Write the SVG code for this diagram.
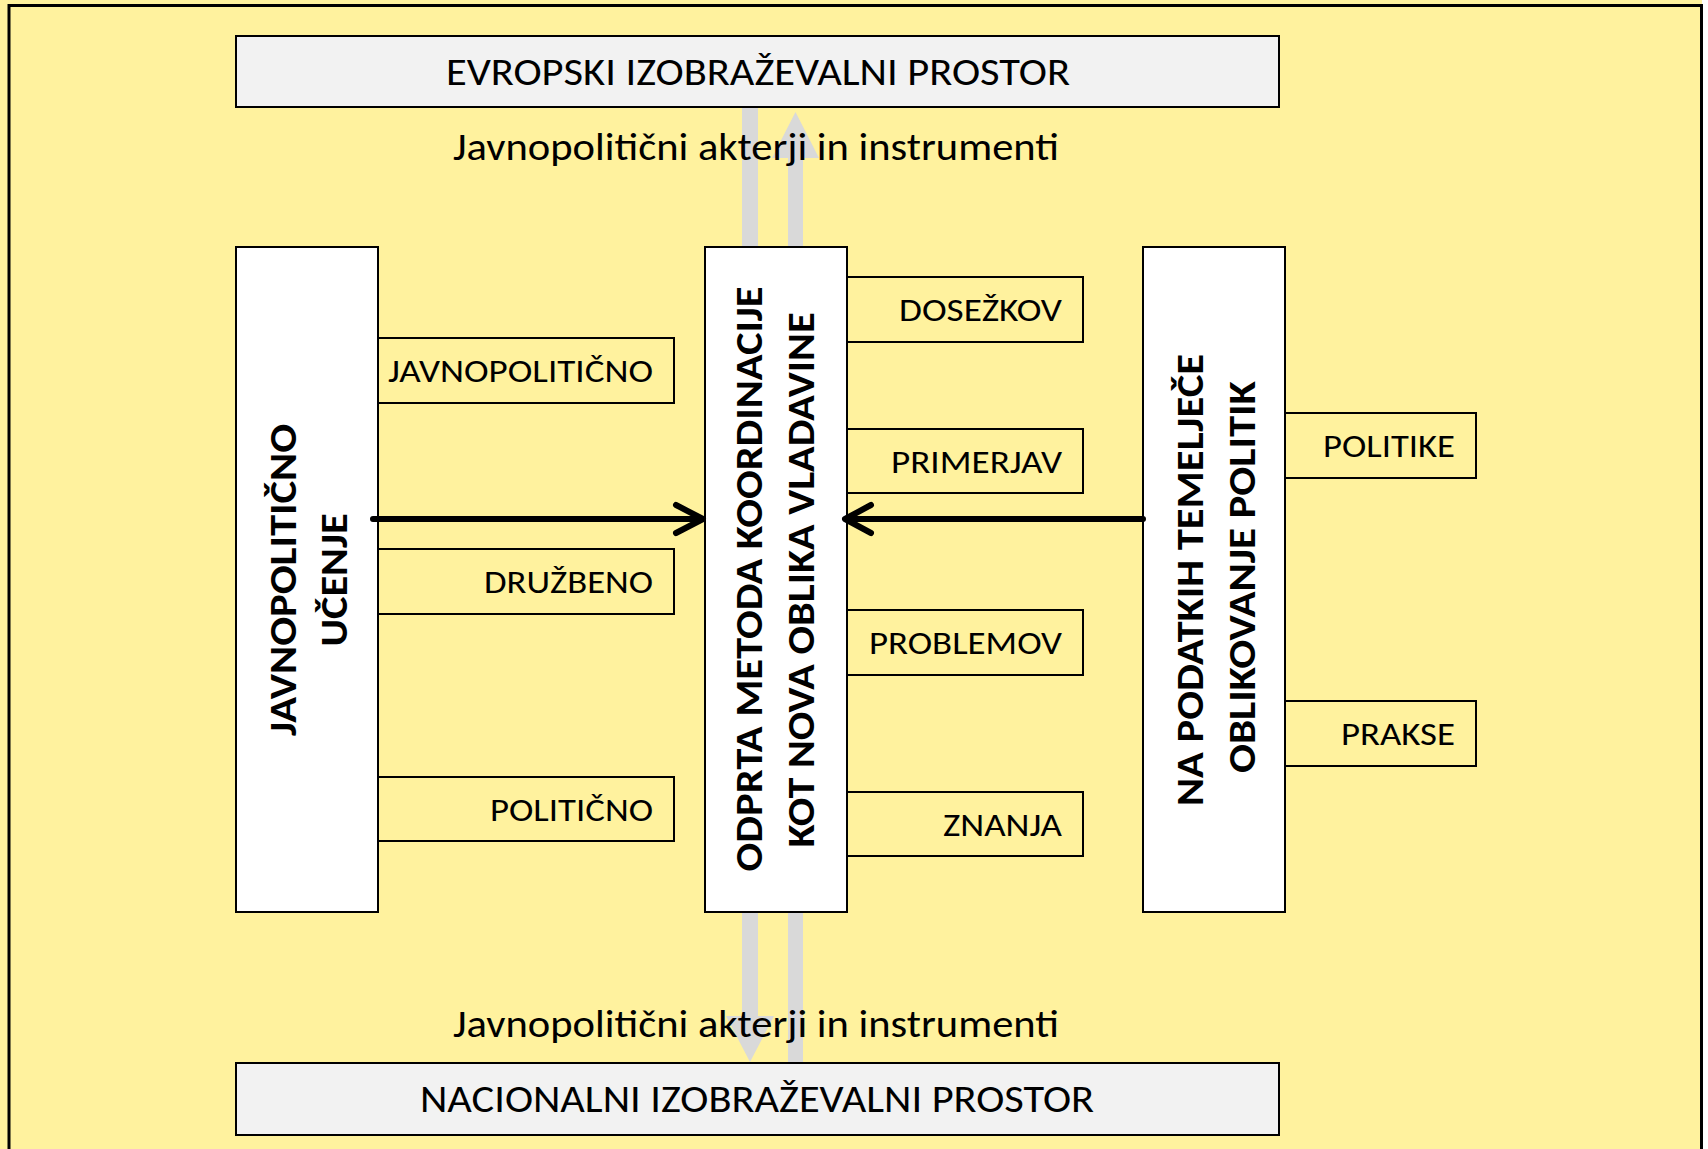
<svg xmlns="http://www.w3.org/2000/svg" width="1708" height="1149" viewBox="0 0 1708 1149">
  <style>
    .reg { font-family: Carlito, Calibri, Lato, "Liberation Sans", sans-serif; fill: #000; }
    .big { font-size: 38.5px; text-anchor: middle; }
    .small { font-size: 33px; text-anchor: end; }
    .bold { font-family: Carlito, Calibri, Lato, "Liberation Sans", sans-serif; font-weight: bold; font-size: 38.5px; text-anchor: middle; fill: #000; }
    .space { fill: #F2F2F2; stroke: #000; stroke-width: 2; }
    .tall { fill: #FFFFFF; stroke: #000; stroke-width: 2; }
    .tag { fill: #FFF29E; stroke: #000; stroke-width: 2; }
    .flow { fill: #D9D9D9; stroke: none; }
    .link { fill: none; stroke: #000; stroke-width: 6; stroke-linecap: round; stroke-linejoin: round; }
  </style>
  <rect x="0" y="0" width="1708" height="1149" fill="#FFFFFF"/>
  <rect x="0" y="0" width="1702" height="1149" fill="#FFF29E"/>
  <rect id="frame" x="9" y="5.5" width="1692.5" height="1160" fill="none" stroke="#000" stroke-width="3"/>

  <g id="evropski">
    <rect class="space" x="236" y="36" width="1043" height="71"/>
    <text class="reg big" x="758" y="85" textLength="624" lengthAdjust="spacingAndGlyphs">EVROPSKI IZOBRAŽEVALNI PROSTOR</text>
  </g>
  <g id="nacionalni">
    <rect class="space" x="236" y="1063" width="1043" height="72"/>
    <text class="reg big" x="757" y="1112" textLength="674" lengthAdjust="spacingAndGlyphs">NACIONALNI IZOBRAŽEVALNI PROSTOR</text>
  </g>

  <g id="ucenje">
    <rect class="tall" x="236" y="247" width="142" height="665"/>
    <text class="bold" transform="translate(296,580) rotate(-90)" textLength="312" lengthAdjust="spacingAndGlyphs">JAVNOPOLITIČNO</text>
    <text class="bold" transform="translate(347,580) rotate(-90)" textLength="133" lengthAdjust="spacingAndGlyphs">UČENJE</text>
  </g>
  <g id="omk">
    <rect class="tall" x="705" y="247" width="142" height="665"/>
    <text class="bold" transform="translate(762,579) rotate(-90)" textLength="585" lengthAdjust="spacingAndGlyphs">ODPRTA METODA KOORDINACIJE</text>
    <text class="bold" transform="translate(814,580) rotate(-90)" textLength="535" lengthAdjust="spacingAndGlyphs">KOT NOVA OBLIKA VLADAVINE</text>
  </g>
  <g id="podatki">
    <rect class="tall" x="1143" y="247" width="142" height="665"/>
    <text class="bold" transform="translate(1203,580) rotate(-90)" textLength="452" lengthAdjust="spacingAndGlyphs">NA PODATKIH TEMELJEČE</text>
    <text class="bold" transform="translate(1255,577) rotate(-90)" textLength="392" lengthAdjust="spacingAndGlyphs">OBLIKOVANJE POLITIK</text>
  </g>

  <g id="javnopoliticno">
    <rect class="tag" x="378" y="338" width="296" height="65"/>
    <text class="reg small" x="653" y="382" textLength="265" lengthAdjust="spacingAndGlyphs">JAVNOPOLITIČNO</text>
  </g>
  <g id="druzbeno">
    <rect class="tag" x="378" y="549" width="296" height="65"/>
    <text class="reg small" x="653" y="593" textLength="169" lengthAdjust="spacingAndGlyphs">DRUŽBENO</text>
  </g>
  <g id="politicno">
    <rect class="tag" x="378" y="777" width="296" height="64"/>
    <text class="reg small" x="653" y="821" textLength="163" lengthAdjust="spacingAndGlyphs">POLITIČNO</text>
  </g>

  <g id="dosezkov">
    <rect class="tag" x="847" y="277" width="236" height="65"/>
    <text class="reg small" x="1062" y="321" textLength="163" lengthAdjust="spacingAndGlyphs">DOSEŽKOV</text>
  </g>
  <g id="primerjav">
    <rect class="tag" x="847" y="429" width="236" height="64"/>
    <text class="reg small" x="1062" y="473" textLength="171" lengthAdjust="spacingAndGlyphs">PRIMERJAV</text>
  </g>
  <g id="problemov">
    <rect class="tag" x="847" y="610" width="236" height="65"/>
    <text class="reg small" x="1062" y="654" textLength="193" lengthAdjust="spacingAndGlyphs">PROBLEMOV</text>
  </g>
  <g id="znanja">
    <rect class="tag" x="847" y="792" width="236" height="64"/>
    <text class="reg small" x="1062" y="836" textLength="119" lengthAdjust="spacingAndGlyphs">ZNANJA</text>
  </g>

  <g id="politike">
    <rect class="tag" x="1285" y="413" width="191" height="65"/>
    <text class="reg small" x="1455" y="457" textLength="132" lengthAdjust="spacingAndGlyphs">POLITIKE</text>
  </g>
  <g id="prakse">
    <rect class="tag" x="1285" y="701" width="191" height="65"/>
    <text class="reg small" x="1455" y="745" textLength="114" lengthAdjust="spacingAndGlyphs">PRAKSE</text>
  </g>

  <g id="connectors">
    <rect class="flow" x="742" y="108" width="16" height="138"/>
    <polygon class="flow" points="788,246 788,158 772,158 795.5,112 819,158 803,158 803,246"/>
    <polygon class="flow" points="742,913 742,1016 726,1016 750,1062 774,1016 758,1016 758,913"/>
    <rect class="flow" x="788" y="913" width="15" height="149"/>
    <path class="link" d="M373,519 L701,519 M676,505 L703,519 L676,533"/>
    <path class="link" d="M1143,519 L847,519 M871,505 L845,519 L871,533"/>
  </g>

  <g id="label-top">
    <text class="reg big" x="756" y="160" textLength="606" lengthAdjust="spacingAndGlyphs">Javnopolitični akterji in instrumenti</text>
  </g>
  <g id="label-bottom">
    <text class="reg big" x="756" y="1037" textLength="606" lengthAdjust="spacingAndGlyphs">Javnopolitični akterji in instrumenti</text>
  </g>
</svg>
